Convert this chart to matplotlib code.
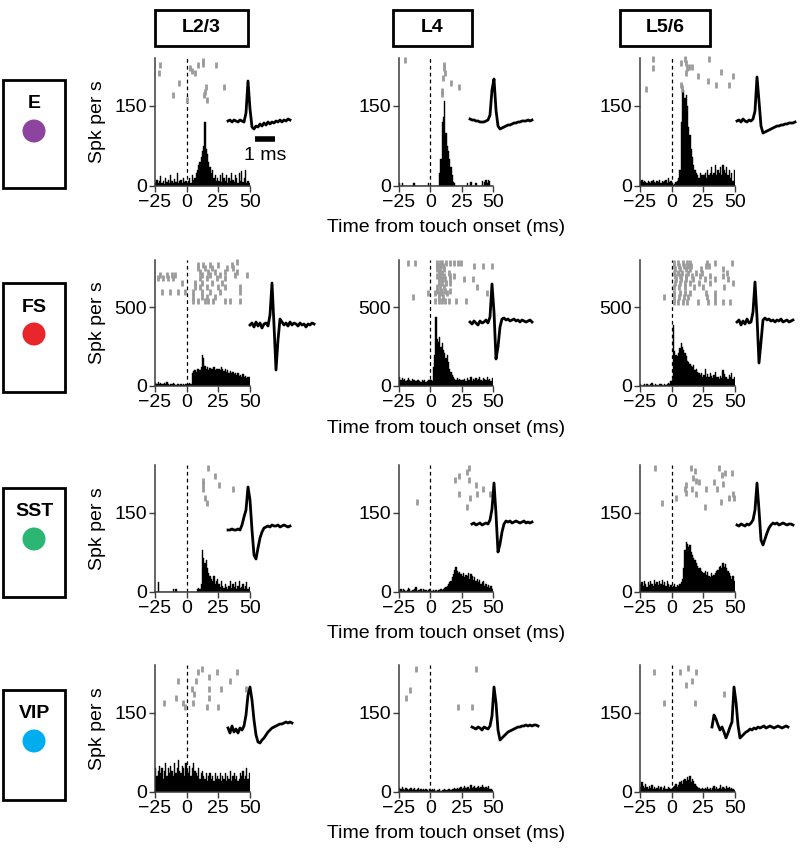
import matplotlib
matplotlib.use("Agg")
import matplotlib.pyplot as plt
import numpy as np
from matplotlib.patches import Ellipse, Rectangle

plt.rcParams["font.family"] = ["Liberation Sans", "DejaVu Sans"]

W, H = 800, 851

layers = ["L2/3", "L4", "L5/6"]
cell_types = ["E", "FS", "SST", "VIP"]
type_colors = ["#8d449f", "#e8262b", "#2bb673", "#00aeef"]
y_max = [240, 800, 240, 240]
y_tick = [150, 500, 150, 150]
x_ticks = [-25, 0, 25, 50]
bin_start = -25  # ms, 1 ms bins

# PSTH counts (spikes/s), 75 bins of 1 ms from -25 to 50 ms
hist_e_l23 = [8, 12, 5, 10, 18, 6, 10, 4, 15, 8, 12, 5, 20, 10, 6, 14, 8, 25, 6, 10, 12, 5, 15, 8, 10,
              6, 10, 15, 5, 20, 12, 15, 25, 30, 40, 45, 55, 65, 75, 120, 70, 60, 45, 35, 25, 30, 15, 20, 10, 15,
              10, 20, 8, 25, 15, 10, 20, 5, 15, 10, 25, 12, 8, 20, 15, 5, 25, 10, 28, 8, 15, 30, 6, 10, 5]
hist_e_l4 = [6, 0, 6, 0, 0, 0, 0, 0, 0, 0, 0, 6, 6, 0, 0, 0, 0, 0, 0, 0, 0, 0, 0, 6, 0,
             0, 0, 0, 0, 0, 0, 0, 25, 50, 120, 130, 160, 100, 75, 65, 50, 35, 20, 8, 5, 0, 0, 0, 0, 0,
             0, 0, 0, 0, 6, 0, 0, 8, 0, 0, 0, 6, 0, 0, 0, 0, 10, 0, 8, 12, 6, 12, 10, 0, 0]
hist_e_l56 = [10, 12, 8, 10, 8, 6, 10, 8, 6, 10, 12, 8, 6, 10, 8, 12, 6, 10, 8, 10, 12, 6, 15, 8, 10,
              5, 2, 4, 8, 10, 15, 30, 120, 190, 180, 165, 170, 150, 110, 95, 70, 55, 40, 30, 25, 20, 15, 25, 20, 20,
              20, 25, 15, 30, 20, 25, 35, 20, 25, 40, 20, 30, 25, 35, 20, 40, 30, 25, 35, 20, 30, 15, 25, 10, 30]
hist_fs_l23 = [20, 15, 25, 10, 20, 15, 10, 20, 15, 25, 10, 5, 15, 10, 20, 10, 5, 10, 15, 5, 10, 5, 10, 5, 10,
               15, 10, 20, 15, 80, 95, 100, 90, 105, 110, 100, 120, 200, 180, 130, 110, 120, 100, 115, 105, 110, 120, 100, 110, 105,
               110, 100, 120, 105, 95, 110, 90, 100, 85, 95, 80, 90, 75, 85, 70, 80, 65, 70, 60, 75, 55, 65, 50, 60, 55]
hist_fs_l4 = [55, 40, 50, 35, 45, 30, 40, 50, 35, 30, 45, 40, 35, 30, 40, 35, 30, 25, 40, 30, 35, 25, 30, 40, 35,
              35, 30, 120, 200, 440, 300, 280, 310, 250, 270, 230, 210, 180, 200, 150, 110, 90, 70, 55, 45, 40, 50, 35, 45, 40,
              40, 35, 45, 30, 50, 40, 35, 55, 30, 45, 40, 50, 35, 45, 55, 40, 30, 50, 45, 35, 55, 40, 45, 30, 50]
hist_fs_l56 = [10, 0, 5, 10, 0, 15, 5, 0, 10, 20, 5, 0, 10, 5, 0, 15, 10, 5, 0, 10, 5, 15, 20, 10, 30,
               40, 390, 220, 200, 190, 210, 240, 270, 250, 230, 210, 190, 160, 150, 140, 130, 120, 135, 100, 110, 90, 80, 70, 85, 60,
               70, 110, 60, 75, 55, 80, 65, 50, 70, 90, 60, 55, 45, 65, 50, 100, 75, 55, 60, 45, 70, 55, 80, 45, 60]
hist_sst_l23 = [0, 0, 18, 0, 0, 0, 0, 0, 0, 0, 0, 0, 0, 0, 6, 0, 6, 0, 0, 0, 0, 0, 0, 0, 0,
                0, 0, 0, 0, 0, 0, 0, 0, 6, 8, 5, 15, 80, 65, 55, 60, 45, 35, 30, 25, 20, 30, 15, 20, 25,
                15, 10, 20, 12, 8, 15, 10, 5, 12, 20, 8, 15, 10, 18, 6, 12, 20, 8, 10, 15, 5, 12, 18, 6, 10]
hist_sst_l4 = [3, 5, 2, 6, 4, 2, 3, 8, 5, 2, 4, 3, 6, 10, 2, 4, 3, 5, 2, 6, 3, 4, 2, 3, 5,
               2, 2, 3, 2, 3, 2, 3, 4, 5, 3, 6, 8, 10, 12, 15, 18, 20, 28, 34, 42, 47, 40, 35, 38, 34,
               30, 36, 28, 32, 30, 35, 25, 34, 30, 22, 28, 20, 25, 18, 22, 15, 18, 20, 12, 16, 10, 14, 8, 12, 5]
hist_sst_l56 = [15, 18, 12, 20, 15, 10, 18, 14, 20, 16, 12, 22, 15, 18, 13, 20, 16, 22, 14, 18, 12, 20, 15, 10, 14,
                10, 12, 15, 10, 14, 12, 15, 18, 25, 45, 80, 95, 90, 85, 88, 75, 70, 65, 60, 55, 50, 45, 45, 40, 38,
                35, 40, 32, 38, 30, 28, 35, 30, 32, 35, 40, 42, 48, 50, 45, 55, 48, 52, 45, 40, 35, 30, 25, 30, 20]
hist_vip_l23 = [45, 30, 40, 50, 35, 45, 25, 40, 55, 30, 45, 35, 50, 40, 30, 55, 35, 45, 60, 40, 35, 50, 45, 30, 55,
                40, 35, 50, 30, 45, 55, 40, 35, 30, 45, 25, 35, 40, 30, 25, 35, 20, 30, 35, 25, 30, 20, 35, 25, 30,
                25, 35, 20, 30, 25, 35, 20, 30, 25, 40, 20, 30, 35, 25, 30, 20, 25, 35, 30, 40, 25, 30, 45, 25, 35]
hist_vip_l4 = [8, 5, 10, 6, 4, 8, 5, 3, 6, 8, 4, 5, 7, 3, 5, 8, 4, 6, 3, 5, 4, 6, 3, 2, 5,
               4, 6, 3, 5, 2, 4, 3, 5, 2, 3, 4, 5, 3, 4, 6, 5, 4, 6, 5, 8, 6, 7, 5, 8, 10,
               6, 8, 12, 7, 10, 9, 6, 14, 8, 10, 12, 7, 9, 11, 8, 10, 13, 9, 7, 10, 8, 12, 6, 5, 4]
hist_vip_l56 = [10, 18, 12, 8, 15, 10, 5, 12, 8, 14, 6, 10, 5, 8, 12, 6, 10, 4, 8, 12, 6, 5, 10, 8, 6,
                8, 10, 12, 15, 10, 14, 18, 20, 15, 22, 25, 20, 28, 22, 30, 18, 25, 20, 15, 12, 10, 8, 6, 5, 8,
                5, 8, 6, 10, 5, 7, 4, 8, 12, 6, 10, 5, 8, 14, 6, 10, 8, 5, 12, 7, 10, 5, 8, 6, 4]

# spike rasters: (row height in axis units, spike times in ms)
raster_e_l23 = [(235, [13]), (229, [13]), (227, [-21, 9.1, 23.5]), (221, [2.6]), (216, [4.4]),
                (211, [-21.8, 6.5]), (194, [-5.8]), (186, [14.9, 29.4]), (177, [14.3]),
                (171, [-10.5, 13.8]), (161, [0, 16.2])]
raster_e_l4 = [(236, [-20.6]), (227, [11.1]), (221, [11.1]), (211, [11.9]), (202, [10]),
               (194, [16.4]), (186, [23]), (179, [9.3]), (172, [9.3])]
raster_e_l56 = [(239, [-14.8, 10.3, 29.6]), (230, [7.1, 11.6]), (224, [13.8, 16.4]), (222, [-14.8]),
                (221, [12.2]), (214, [38.6]), (211, [11.1]), (206, [20.4, 48.7]), (197, [28.3]),
                (189, [7.7, 34.9, 45.5]), (181, [-20.1, 8.2])]
raster_fs_l23 = [(789, [40.1]),
                 (768, [9.2, 13.2, 18.4, 25, 35.6]),
                 (747, [9.2, 14.5, 19.8, 31.6, 36.9]),
                 (726, [10.5, 17.1, 22.4, 30.3, 39.6]),
                 (705, [-21.1, -15.8, -11.9, -9.2, 11.8, 18.4, 26.4, 38.2, 48]),
                 (684, [-22.4, -18.5, -14.5, -10.5, 10.5, 15.8, 23.7, 30.3]),
                 (652, [-4, 6.5, 11.8, 19.8, 27.7]),
                 (627, [6.5, 10.5, 15.8, 25, 30.3, 42.2]),
                 (599, [-19.8, -13.2, -6.6, -1.4, 5.2, 11.8, 18.4, 26.4, 42.2]),
                 (567, [5.2, 11.8, 15.8, 22.4]),
                 (542, [5.2, 9.2, 14.5, 17.1, 21.1, 30.3, 34.3, 42.2])]
raster_fs_l4 = [(783, [-18, -11.9, 5.3, 7.4, 9.3, 12.7, 15.3, 18.5, 21.7, 24.3]),
                (762, [5.3, 7.9, 10.1, 34.9, 41.8, 49.5]),
                (741, [5.3, 7.9, 10.6]),
                (720, [6.6, 9.3, 14.6]),
                (699, [5.3, 7.9, 11.1, 15.9, 18.5]),
                (677, [6.6, 9.3, 11.9, 15.9, 27, 34.4]),
                (652, [6.6, 9.3, 12.7, 15.3]),
                (627, [5.3, 7.9, 11.1, 37]),
                (605, [5.3, 8.5, 11.9, 15.9]),
                (588, [-2.1, 4, 6.6, 9.3, 13.2, 45]),
                (567, [-13.8, 6.6, 10.1]),
                (542, [4, 6.6, 9.3, 11.9, 14.6, 20.6, 28.6])]
raster_fs_l56 = [(783, [1.6, 5, 9, 12.2, 14.8, 27.5, 34.1, 47.4]),
                 (762, [1.6, 5.8, 9.5, 12.9, 15.6, 27, 29.6]),
                 (741, [2.4, 6.3, 11.1, 14.8, 23.5, 40.7]),
                 (720, [1.6, 5, 8.5, 12.9, 19.6, 24.3, 43.4]),
                 (699, [2.4, 6.3, 11.1, 16.4, 22.2, 30.2, 40.2]),
                 (677, [3.2, 7.7, 11.6, 16.9, 26.2, 34.1, 44.7]),
                 (652, [2.4, 6.3, 10.3, 14.3, 21.7, 30.2, 48.7]),
                 (627, [1.6, 5.8, 10.3, 17.5, 24.9, 41.3]),
                 (593, [1.6, 6.3, 10.3, 14.3, 27, 34.1]),
                 (567, [-6.3, 1.6, 5.8, 9.5, 12.9, 27.5, 34.1]),
                 (536, [1.6, 5, 9, 12.2, 20.9, 28.8, 34.1, 40.7, 46])]
raster_sst_l23 = [(235, [16.6]), (219, [22.4]), (210, [12.6]), (204, [13.2]), (202, [25.5]),
                  (194, [12.6, 36.8]), (177, [14.5]), (169, [15.8])]
raster_sst_l4 = [(234, [31]), (227, [29.1]), (219, [22.5]), (211, [19.8, 31.2]), (202, [36.5]),
                 (194, [41.8]), (186, [22.5, 37.6, 47.6]), (177, [31.7]), (170, [-10.6]), (161, [29.1])]
raster_sst_l56 = [(234, [-13, 15.6, 37.6]), (228, [18.3]), (225, [42.1, 47.4]), (222, [39.4]),
                  (216, [16.9]), (209, [19.6]), (208, [21.7, 33.3]), (204, [40.2]), (203, [11.6]),
                  (194, [10.3, 16.4, 27, 35.4]), (188, [11.1]), (186, [19.6, 48.2]),
                  (177, [3.7, 45.5, 49.5]), (171, [38.6]), (169, [-7.4]), (161, [26.2])]
raster_vip_l23 = [(233, [12.3]), (227, [9.2, 24.2, 40]), (218, [17.6]), (210, [-6.6, 7.1, 34.2]),
                  (194, [4.5, 17.9, 27.1, 46.8]), (185, [6]), (177, [-8.5, 17.6]),
                  (169, [-17.9, -2.7, 5.3]), (160, [-1.4, 15.8, 25])]
raster_vip_l4 = [(233, [-11.1, 36.5]), (193, [-16.4]), (177, [-19.8]), (160, [22, 33.1])]
raster_vip_l56 = [(235, [12.9]), (227, [-14.3, 6.9, 19.6]), (210, [16.1]), (202, [11.6]),
                  (185, [41.3]), (168, [-6.1, 18.3])]

# mean spike waveforms, 0.1 ms samples, amplitude in arbitrary units (baseline 0)
wave_e_l23 = [0, 1, -1, 1, 0, -1, 1, 0, -1, 8, 40, 12, -6, -8, -5, -6, -3, -5, -2, -4, -1, -3, -1, -2, 0, -1, 1, -1, 1, 0, 2, 1]
wave_e_l4 = [1, 0, 0, -1, -1, -2, -2, -2, -1, 0, 5, 30, 41, 10, -6, -9, -8, -7, -6, -5, -5, -4, -3, -3, -2, -2, -1, -1, -1, 0, -1, 0]
wave_e_l56 = [0, 1, -1, 2, 0, -1, 1, 0, 2, 10, 44, 20, -5, -12, -11, -10, -9, -8, -7, -6, -5, -5, -4, -4, -3, -3, -2, -2, -2, -1]
wave_fs_l23 = [0, 2, -2, 3, -1, 2, -3, 1, 2, -1, 10, 42, 0, -45, -15, 6, 3, 0, 2, -1, 3, 0, 2, 1, -1, 2, 0, 1, -2, 1, 0, 2, 1]
wave_fs_l4 = [0, -2, 1, -1, -3, 1, -1, 0, 2, -1, 5, 38, 10, -37, -25, -5, 3, 4, 2, 3, 1, 2, 3, 1, 2, 0, 2, 1, 0, 1, 2, 0]
wave_fs_l56 = [0, 2, -3, 1, -2, 3, -1, 0, 10, 40, 5, -41, -20, 2, 4, 2, 3, 1, 2, 0, 2, 1, 3, 0, 1, 2, 0, 1, 2]
wave_sst_l23 = [0, 0, 1, 0, 0, 1, 0, 5, 13, 20, 43, 30, 0, -25, -29, -18, -8, -2, 2, 3, 4, 3, 5, 4, 4, 5, 3, 4, 5, 4, 3, 4]
wave_sst_l4 = [0, 1, -1, 0, 1, -1, 0, 1, 0, 4, 15, 41, 10, -28, -20, -8, 0, 3, 2, 3, 1, 2, 3, 2, 1, 2, 3, 1, 2, 1, 2]
wave_sst_l56 = [0, -1, 1, 0, -1, 1, 0, 2, 5, 15, 42, 15, -15, -20, -14, -8, -3, 0, 2, 1, 2, 0, 1, 2, 1, 0, 1, 1, 0]
wave_vip_l23 = [2, -3, 4, -2, 1, -3, 2, 0, 4, 15, 35, 43, 30, 10, -5, -12, -13, -10, -8, -5, -2, 0, 2, 3, 4, 5, 6, 6, 7, 8, 7, 8, 7]
wave_vip_l4 = [1, 0, -1, 1, 0, -2, 1, 0, -1, 2, 12, 41, 25, -2, -12, -10, -8, -6, -4, -3, -2, -1, 0, 1, 1, 2, 2, 3, 2, 3, 2, 3, 3, 2]
wave_vip_l56 = [0, 12, 8, 2, -3, 0, -5, -11, -6, 0, 5, 40, 25, 2, -11, -9, -7, -5, -4, -2, -3, -1, -2, 0, -1, 0, 1, -1, 0, 1, 0, -1, 0, 1, 0, -1, 0, 1, 0]

hists = [[hist_e_l23, hist_e_l4, hist_e_l56],
         [hist_fs_l23, hist_fs_l4, hist_fs_l56],
         [hist_sst_l23, hist_sst_l4, hist_sst_l56],
         [hist_vip_l23, hist_vip_l4, hist_vip_l56]]
rasters = [[raster_e_l23, raster_e_l4, raster_e_l56],
           [raster_fs_l23, raster_fs_l4, raster_fs_l56],
           [raster_sst_l23, raster_sst_l4, raster_sst_l56],
           [raster_vip_l23, raster_vip_l4, raster_vip_l56]]
waves = [[wave_e_l23, wave_e_l4, wave_e_l56],
         [wave_fs_l23, wave_fs_l4, wave_fs_l56],
         [wave_sst_l23, wave_sst_l4, wave_sst_l56],
         [wave_vip_l23, wave_vip_l4, wave_vip_l56]]

# layout in pixels
col_left = [155, 399, 640]
col_right = [250, 493, 735]
row_top = [58, 260, 465, 665]
row_bottom = [186, 386, 592, 792]
wave_pos = [[(228, 121), (470, 120), (737, 121)],
            [(250, 325), (470, 322), (737, 322)],
            [(228, 530), (472, 524), (737, 525)],
            [(228, 730), (472, 728), (712, 727)]]
label_boxes = [(80, 188), (283, 392), (488, 597), (690, 800)]
header_boxes = [(155, 248), (393, 472), (620, 710)]

SPINE = "#3c3c3c"
FS_TXT = 14


def px_rect(left, top, right, bottom):
    return [left / W, 1 - bottom / H, (right - left) / W, (bottom - top) / H]


fig = plt.figure(figsize=(W / 100, H / 100), dpi=100)

for r in range(len(cell_types)):
    for c in range(len(layers)):
        ax = fig.add_axes(px_rect(col_left[c], row_top[r], col_right[c], row_bottom[r]))
        counts = hists[r][c]
        edges = bin_start + np.arange(len(counts))
        ax.bar(edges, counts, width=1.0, align="edge", color="black", edgecolor="black", linewidth=0.3)
        ax.axvline(0, color="black", lw=0.9, ls=(0, (3, 2.5)))
        for yrow, times in rasters[r][c]:
            ax.plot(times, [yrow] * len(times), ls="none", marker="|", ms=3.8, mew=2.0,
                    color="#9b9b9b", clip_on=False)
        ax.set_xlim(-25, 50)
        ax.set_ylim(0, y_max[r])
        ax.set_xticks(x_ticks)
        ax.set_yticks([0, y_tick[r]])
        for side in ("top", "right"):
            ax.spines[side].set_visible(False)
        for side in ("left", "bottom"):
            ax.spines[side].set_color(SPINE)
            ax.spines[side].set_linewidth(1.1)
        ax.tick_params(direction="out", length=4, width=1, color=SPINE, labelsize=FS_TXT, pad=2)
        ax.patch.set_alpha(0)

        # waveform inset: 2 px per sample, 1 px per unit
        w = waves[r][c]
        left, base = wave_pos[r][c]
        wax = fig.add_axes(px_rect(left, base - 60, left + 2 * (len(w) - 1), base + 60))
        wax.plot(np.arange(len(w)), w, color="black", lw=2.0, clip_on=False)
        wax.set_xlim(0, len(w) - 1)
        wax.set_ylim(-60, 60)
        wax.axis("off")
        if r == 0 and c == 0:
            wax.plot([13.5, 23.5], [-18, -18], color="black", lw=4, solid_capstyle="butt", clip_on=False)
            wax.text(18.5, -35, "1 ms", ha="center", va="center", fontsize=FS_TXT)

    ymid = (row_top[r] + row_bottom[r]) / 2
    fig.text(97 / W, 1 - ymid / H, "Spk per s", rotation=90, ha="center", va="center", fontsize=FS_TXT)
    fig.text(446 / W, 1 - (row_bottom[r] + 42) / H, "Time from touch onset (ms)",
             ha="center", va="center", fontsize=FS_TXT)

    # cell-type label box
    top, bottom = label_boxes[r]
    fig.add_artist(Rectangle((3 / W, 1 - bottom / H), 62 / W, (bottom - top) / H,
                             transform=fig.transFigure, fill=False, ec="black", lw=2))
    fig.text(34 / W, 1 - (top + 24) / H, cell_types[r], ha="center", va="center",
             fontsize=FS_TXT, fontweight="bold")
    fig.add_artist(Ellipse((34 / W, 1 - (top + 51) / H), 23 / W, 23 / H,
                           transform=fig.transFigure, color=type_colors[r], ec="none"))

for c, layer in enumerate(layers):
    x0, x1 = header_boxes[c]
    fig.add_artist(Rectangle((x0 / W, 1 - 46 / H), (x1 - x0) / W, 36 / H,
                             transform=fig.transFigure, fill=False, ec="black", lw=2))
    fig.text((x0 + x1) / 2 / W, 1 - 28 / H, layer, ha="center", va="center",
             fontsize=FS_TXT, fontweight="bold")

fig.savefig("out.png", dpi=100)
